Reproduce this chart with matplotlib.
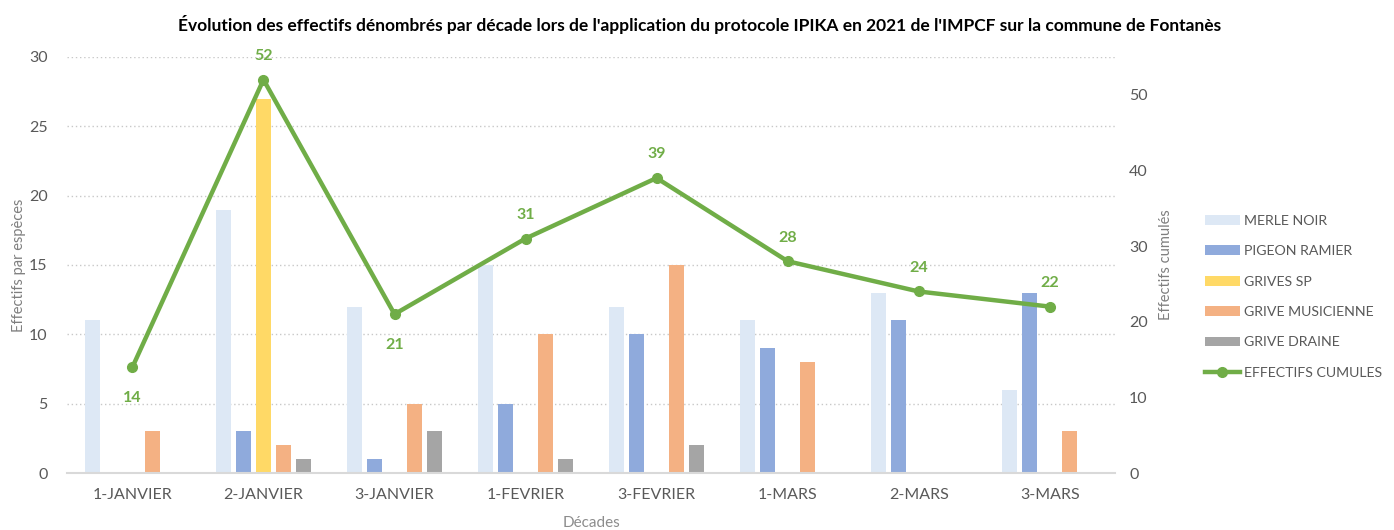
import numpy as np
import matplotlib
matplotlib.use("Agg")
import matplotlib.pyplot as plt
from matplotlib.lines import Line2D
from matplotlib.patches import Patch

plt.rcParams['font.family'] = ['Lato', 'DejaVu Sans']

decades = ["1-JANVIER", "2-JANVIER", "3-JANVIER", "1-FEVRIER",
           "3-FEVRIER", "1-MARS", "2-MARS", "3-MARS"]

merle_noir = [11, 19, 12, 15, 12, 11, 13, 6]
pigeon_ramier = [0, 3, 1, 5, 10, 9, 11, 13]
grives_sp = [0, 27, 0, 0, 0, 0, 0, 0]
grive_musicienne = [3, 2, 5, 10, 15, 8, 0, 3]
grive_draine = [0, 1, 3, 1, 2, 0, 0, 0]
effectifs_cumules = [14, 52, 21, 31, 39, 28, 24, 22]

especes = ["MERLE NOIR", "PIGEON RAMIER", "GRIVES SP",
           "GRIVE MUSICIENNE", "GRIVE DRAINE"]
couleurs = ["#DDE8F5", "#8FAADC", "#FFD966", "#F4B183", "#A5A5A5"]
vert = "#70AD47"
gris = "#595959"

series = [merle_noir, pigeon_ramier, grives_sp, grive_musicienne, grive_draine]

fig = plt.figure(figsize=(13.94, 5.30), dpi=100)
ax = fig.add_axes([0.048, 0.1075, 0.752, 0.785])
ax2 = ax.twinx()

x = np.arange(len(decades))
pas = 0.153
largeur = 0.115
for i, (vals, coul) in enumerate(zip(series, couleurs)):
    ax.bar(x + (i - 2) * pas, vals, width=largeur, color=coul, zorder=2)

ax.set_xlim(-0.5, len(decades) - 0.5)
ax.set_ylim(0, 30)
ax.set_yticks(range(0, 31, 5))
ax.grid(axis='y', linestyle=(0, (1, 2)), color='#C8C8C8', linewidth=1, zorder=0)
ax.set_axisbelow(True)
for s in ['top', 'right', 'left']:
    ax.spines[s].set_visible(False)
ax.spines['bottom'].set_color('#D9D9D9')
ax.spines['bottom'].set_linewidth(1.5)
ax.tick_params(axis='both', length=0, colors=gris, labelsize=11.5)
ax.tick_params(axis='y', pad=14)
ax.tick_params(axis='x', pad=11)
ax.set_xticks(x)
ax.set_xticklabels(decades)
ax.set_xlabel("Décades", color='#8C8C8C', fontsize=11, labelpad=10)
ax.set_ylabel("Effectifs par espèces", color='#7F7F7F', fontsize=10.5, labelpad=2)

# courbe des effectifs cumulés sur l'axe de droite
ax2.plot(x, effectifs_cumules, color=vert, linewidth=3.2, marker='o',
         markersize=7, zorder=5)
ax2.set_ylim(0, 55)
ax2.set_yticks(range(0, 51, 10))
for s in ax2.spines.values():
    s.set_visible(False)
ax2.tick_params(axis='y', length=0, colors=gris, labelsize=11.5, pad=10)
ax2.set_ylabel("Effectifs cumulés", color='#7F7F7F', fontsize=10.5, labelpad=8)

dessous = [0, 2]
for i, v in enumerate(effectifs_cumules):
    dy = -22 if i in dessous else 17
    ax2.annotate(str(v), (x[i], v), xytext=(0, dy), textcoords='offset points',
                 ha='center', va='center', color=vert, fontsize=11.5,
                 fontweight='bold')

fig.suptitle("Évolution des effectifs dénombrés par décade lors de l'application "
             "du protocole IPIKA en 2021 de l'IMPCF sur la commune de Fontanès",
             x=0.502, y=0.972, fontsize=12.5, fontweight='bold', color='black')

handles = [Patch(facecolor=c, edgecolor='none') for c in couleurs]
handles.append(Line2D([0], [0], color=vert, linewidth=3.2, marker='o',
                      markersize=7))
labels = especes + ["EFFECTIFS CUMULES"]
fig.legend(handles, labels, loc='center left', bbox_to_anchor=(0.855, 0.44),
           frameon=False, fontsize=10.2, labelcolor=gris, handlelength=2.5,
           handletextpad=0.25, labelspacing=1.3)

fig.savefig("out.png", dpi=100)
